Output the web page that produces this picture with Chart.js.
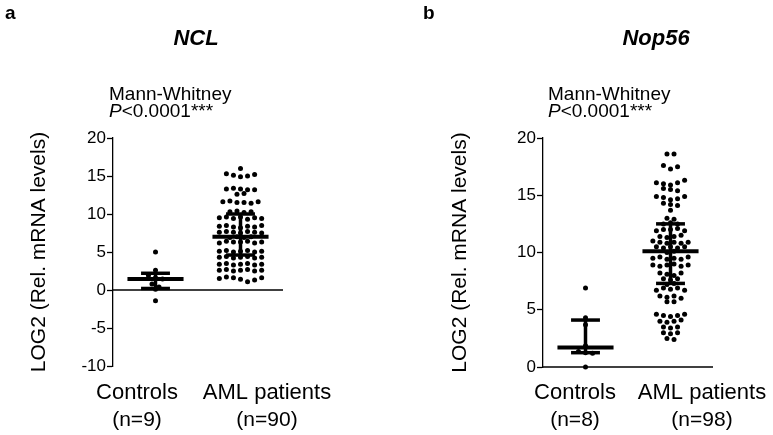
<!DOCTYPE html>
<html>
<head>
<meta charset="utf-8">
<script src="https://cdn.jsdelivr.net/npm/chart.js@4"></script>
<style>
  body { margin: 0; background: #fff; }
  #wrap { position: relative; width: 773px; height: 435px; }
  canvas { position: absolute; top: 0; }
</style>
</head>
<body>
<div id="wrap">
  <canvas id="chartA" width="386" height="435" style="left:0"></canvas>
  <canvas id="chartB" width="387" height="435" style="left:386px"></canvas>
</div>
<script>
// data (LOG2 relative mRNA levels)
const groups = ["Controls", "AML patients"];
const nclCounts = ["(n=9)", "(n=90)"];
const nop56Counts = ["(n=8)", "(n=98)"];

const nclControls = [5.0, 2.6, 1.9, 1.6, 1.45, 0.8, 0.4, 0.1, -1.4];
const nclAml = [
  16.0,
  15.3, 15.1, 14.9, 15.0, 15.2,
  13.3, 13.4, 13.3, 13.2, 13.2,
  12.6, 12.7,
  11.6, 11.7, 11.5, 11.5, 11.4, 11.6,
  10.3, 10.4, 10.2, 10.3,
  9.5, 9.6, 9.4, 9.6, 9.3, 9.5, 9.4,
  8.4, 8.5, 8.3, 8.2, 8.4, 8.3, 8.5,
  7.6, 7.7, 7.6, 7.5, 7.7, 7.6, 7.5,
  6.9, 7.0, 6.9, 7.0,
  6.2, 6.4, 6.3, 6.3, 6.4, 6.2, 6.3,
  5.1, 5.2, 5.0, 5.1, 5.2, 5.0, 5.1,
  4.3, 4.4, 4.2, 4.3, 4.4, 4.2, 4.3,
  3.4, 3.5, 3.3, 3.4, 3.5, 3.3, 3.4,
  2.6, 2.7, 2.5, 2.6, 2.7, 2.5, 2.6,
  1.5, 1.7, 1.6, 1.4, 1.1, 1.3, 1.6
];
const nclMedian = [1.45, 7.0];
const nclQ1 = [0.2, 4.6];
const nclQ3 = [2.2, 10.0];

const nop56Controls = [6.9, 4.3, 3.7, 1.85, 1.35, 1.25, 1.2, 0.0];
const nop56Aml = [
  18.6, 18.6,
  17.6, 17.3, 17.5,
  16.1, 16.0, 15.9, 16.1, 16.3,
  15.6, 15.5, 15.4,
  14.9, 14.8, 14.6, 14.7, 14.9,
  14.3, 14.2, 14.1,
  13.7,
  13.0, 12.9,
  12.5, 12.6, 12.5,
  11.9, 12.0, 12.0, 12.1, 11.9,
  11.4, 11.3, 11.4, 11.5,
  11.0, 10.9, 10.8, 10.9, 10.8, 10.9,
  10.5, 10.4, 10.5, 10.4, 10.5,
  10.0, 10.1,
  9.5, 9.6, 9.4, 9.5, 9.4, 9.6,
  8.9, 8.8, 8.9, 9.0, 8.8, 8.9,
  8.2, 8.1, 8.0, 8.2,
  7.7, 7.6, 7.7,
  7.2, 7.3,
  6.7, 6.9, 6.8, 6.9, 6.7,
  6.2, 6.1, 6.2, 6.0,
  5.7, 5.7,
  4.6, 4.5, 4.4, 4.5, 4.6,
  4.0, 3.9, 4.0, 4.1,
  3.5, 3.4, 3.5,
  3.0, 2.9, 3.0,
  2.5, 2.4
];
const nop56Median = [1.7, 10.1];
const nop56Q1 = [1.25, 7.3];
const nop56Q3 = [4.1, 12.5];

const FONT = "'Liberation Sans', Arial, sans-serif";
const centers = [0.5, 1.5];   // x position of each group on a 0..2 scale
const STEP = 0.083;           // horizontal spacing of dots in one row
const MED_HALF = 0.33;
const CAP_HALF = 0.17;

// lay dots out in rows like a scatter dot plot (values that sit close together share a row)
function swarm(values, center, binSize) {
  const rows = [];
  values.forEach(v => {
    const row = rows[rows.length - 1];
    if (row && Math.abs(row[0] - v) < binSize) row.push(v);
    else rows.push([v]);
  });
  const pts = [];
  rows.forEach(row => {
    row.forEach((v, i) => pts.push({ x: center + (i - (row.length - 1) / 2) * STEP, y: v }));
  });
  return pts;
}

function line(data, width) {
  return {
    data: data,
    showLine: true,
    borderColor: "#000",
    borderWidth: width,
    pointRadius: 0,
    clip: false
  };
}

function buildDatasets(ctrl, aml, med, q1, q3, bin) {
  const sets = [];
  sets.push(line([{ x: 0, y: 0 }, { x: 2, y: 0 }], 1.3)); // x axis line at 0
  [ctrl, aml].forEach((vals, g) => {
    sets.push({
      data: swarm(vals, centers[g], bin),
      backgroundColor: "#000",
      borderWidth: 0,
      pointRadius: 2.5,
      clip: false
    });
  });
  centers.forEach((c, g) => {
    sets.push(line([{ x: c - MED_HALF, y: med[g] }, { x: c + MED_HALF, y: med[g] }], 4));
    sets.push(line([{ x: c - CAP_HALF, y: q3[g] }, { x: c + CAP_HALF, y: q3[g] }], 3.5));
    sets.push(line([{ x: c - CAP_HALF, y: q1[g] }, { x: c + CAP_HALF, y: q1[g] }], 3.5));
    sets.push(line([{ x: c, y: q1[g] }, { x: c, y: q3[g] }], 3.5));
  });
  return sets;
}

const textPlugin = {
  id: "panelText",
  afterDraw(chart, args, opts) {
    const ctx = chart.ctx;
    ctx.save();
    ctx.fillStyle = "#000";
    ctx.textBaseline = "alphabetic";
    opts.items.forEach(t => {
      let x = t.x - opts.offset;
      if (t.parts) {
        ctx.textAlign = "left";
        t.parts.forEach(p => {
          ctx.font = p.font;
          ctx.fillText(p.text, x, t.y);
          x += ctx.measureText(p.text).width;
        });
      } else {
        ctx.font = t.font;
        ctx.textAlign = t.align || "left";
        ctx.fillText(t.text, x, t.y);
      }
    });
    ctx.restore();
  }
};

function panelTexts(letter, letterX, gene, geneX, statX, labelX, counts) {
  return [
    { text: letter, x: letterX, y: 19, font: "bold 19px " + FONT },
    { text: gene, x: geneX, y: 45, font: "italic bold 22px " + FONT, align: "center" },
    { text: "Mann-Whitney", x: statX, y: 100, font: "19px " + FONT },
    { parts: [{ text: "P", font: "italic 19px " + FONT }, { text: "<0.0001***", font: "19px " + FONT }], x: statX, y: 117 },
    { text: groups[0], x: labelX[0], y: 399, font: "22px " + FONT, align: "center" },
    { text: groups[1], x: labelX[1], y: 399, font: "22px " + FONT, align: "center" },
    { text: counts[0], x: labelX[0], y: 426, font: "21px " + FONT, align: "center" },
    { text: counts[1], x: labelX[1], y: 426, font: "21px " + FONT, align: "center" }
  ];
}

function makeChart(id, cfg) {
  return new Chart(document.getElementById(id), {
    type: "scatter",
    data: { datasets: cfg.datasets },
    plugins: [textPlugin],
    options: {
      responsive: false,
      animation: false,
      devicePixelRatio: 1,
      layout: { padding: cfg.padding },
      plugins: {
        legend: { display: false },
        tooltip: { enabled: false },
        panelText: { items: cfg.texts, offset: cfg.offset }
      },
      scales: {
        x: { type: "linear", min: 0, max: 2, display: false },
        y: {
          min: cfg.yMin,
          max: 20,
          ticks: { stepSize: 5, color: "#000", font: { size: 17, family: FONT }, padding: 1 },
          grid: { display: true, drawOnChartArea: false, drawTicks: true, tickLength: 6, tickWidth: 1.3, tickColor: "#000" },
          border: { display: true, color: "#000", width: 1.3 },
          title: {
            display: true,
            text: "LOG2 (Rel. mRNA levels)",
            color: "#000",
            font: { size: 21, family: FONT },
            padding: { top: cfg.titlePad, bottom: 0 }
          },
          afterFit: s => { s.width = cfg.axisWidth; }
        }
      }
    }
  });
}

makeChart("chartA", {
  datasets: buildDatasets(nclControls, nclAml, nclMedian, nclQ1, nclQ3, 0.55),
  padding: { left: 0, right: 103, top: 138, bottom: 69 },
  yMin: -10,
  axisWidth: 113,
  titlePad: 27,
  offset: 0,
  texts: panelTexts("a", 5, "NCL", 196, 109, [137, 267], nclCounts)
});

makeChart("chartB", {
  datasets: buildDatasets(nop56Controls, nop56Aml, nop56Median, nop56Q1, nop56Q3, 0.35),
  padding: { left: 0, right: 60, top: 138, bottom: 68 },
  yMin: 0,
  axisWidth: 157,
  titlePad: 62,
  offset: 386,
  texts: panelTexts("b", 423, "Nop56", 656, 548, [575, 702], nop56Counts)
});
</script>
</body>
</html>
